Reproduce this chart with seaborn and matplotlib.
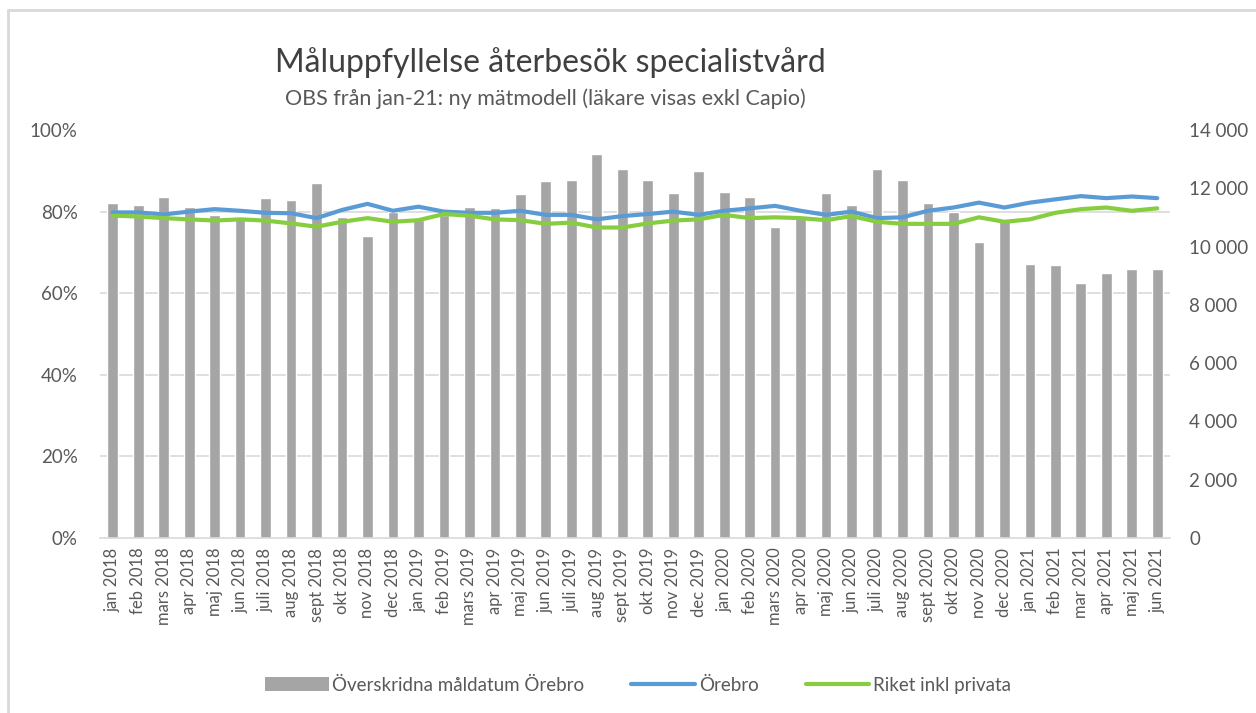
import matplotlib
matplotlib.use("Agg")
import matplotlib.pyplot as plt
from matplotlib.lines import Line2D
from matplotlib.patches import Patch
from matplotlib.ticker import FuncFormatter, MultipleLocator
import seaborn as sns
import numpy as np
import pandas as pd

MONTHS = [
    "jan 2018", "feb 2018", "mars 2018", "apr 2018", "maj 2018", "jun 2018",
    "juli 2018", "aug 2018", "sept 2018", "okt 2018", "nov 2018", "dec 2018",
    "jan 2019", "feb 2019", "mars 2019", "apr 2019", "maj 2019", "jun 2019",
    "juli 2019", "aug 2019", "sept 2019", "okt 2019", "nov 2019", "dec 2019",
    "jan 2020", "feb 2020", "mars 2020", "apr 2020", "maj 2020", "jun 2020",
    "juli 2020", "aug 2020", "sept 2020", "okt 2020", "nov 2020", "dec 2020",
    "jan 2021", "feb 2021", "mar 2021", "apr 2021", "maj 2021", "jun 2021",
]

# Överskridna måldatum Örebro (right axis, count)
OVERSKRIDNA = [
    11500, 11420, 11710, 11350, 11100, 11000, 11670, 11590, 12170, 11000, 10370, 11200,
    10900, 11100, 11350, 11310, 11800, 12240, 12280, 13180, 12660, 12270, 11830, 12590,
    11880, 11710, 10680, 11000, 11830, 11430, 12650, 12270, 11500, 11200, 10170, 10900,
    9400, 9360, 8760, 9080, 9230, 9230,
]

# Måluppfyllelse (left axis, %)
OREBRO = [
    79.8, 79.8, 79.3, 80.0, 80.6, 80.2, 79.7, 79.6, 78.4, 80.4, 81.9, 80.2,
    81.2, 80.0, 79.7, 79.7, 80.2, 79.2, 79.2, 78.1, 78.9, 79.4, 80.0, 79.2,
    80.2, 80.8, 81.4, 80.2, 79.2, 80.0, 78.4, 78.6, 80.2, 81.0, 82.2, 81.0,
    82.2, 83.0, 83.8, 83.3, 83.7, 83.3,
]
RIKET = [
    79.0, 78.8, 78.4, 78.1, 77.8, 78.1, 77.8, 77.1, 76.3, 77.5, 78.4, 77.5,
    77.9, 79.4, 79.0, 78.1, 77.9, 77.0, 77.3, 76.1, 76.1, 77.1, 77.8, 78.1,
    79.2, 78.4, 78.6, 78.4, 77.9, 78.9, 77.5, 77.0, 77.0, 77.0, 78.6, 77.5,
    78.1, 79.7, 80.6, 81.0, 80.2, 80.8,
]

BAR_COLOR = "#A5A5A5"
BLUE = "#5B9BD5"
GREEN = "#86CE40"
TEXT = "#595959"
GRID = "#D9D9D9"

sns.set_style("white")
plt.rcParams["font.family"] = ["Lato", "DejaVu Sans"]

df = pd.DataFrame({
    "month": MONTHS,
    "idx": np.arange(len(MONTHS)),
    "overskridna": OVERSKRIDNA,
    "orebro": np.array(OREBRO) / 100,
    "riket": np.array(RIKET) / 100,
})

W, H = 1256, 713
fig = plt.figure(figsize=(W / 100, H / 100), dpi=100)
ax = fig.add_axes([100 / W, 175 / H, 1070 / W, 408 / H])
ax2 = ax.twinx()

# bars on the count axis (drawn at the back)
sns.barplot(data=df, x="month", y="overskridna", color=BAR_COLOR, saturation=1,
            width=0.42, ax=ax)
ax.set_xlim(-0.5, len(MONTHS) - 0.5)
ax.set_ylim(0, 14000)
ax.yaxis.tick_right()
ax.yaxis.set_label_position("right")
ax.yaxis.set_major_locator(MultipleLocator(2000))
ax.yaxis.set_major_formatter(FuncFormatter(lambda v, p: f"{int(v):,}".replace(",", " ")))
# gridlines follow the percent axis (every 20 %)
ax.yaxis.set_minor_locator(MultipleLocator(2800))
ax.grid(which="minor", axis="y", color=GRID, lw=1.2)
ax.set_axisbelow(True)
ax.set_xlabel("")
ax.set_ylabel("")
ax.tick_params(axis="y", which="both", length=0, pad=14, labelsize=13.5, labelcolor=TEXT)
ax.tick_params(axis="x", length=0, pad=7, labelsize=12, labelcolor=TEXT, rotation=90)
for s in ["top", "left", "right"]:
    ax.spines[s].set_visible(False)
ax.spines["bottom"].set_color(GRID)
ax.spines["bottom"].set_linewidth(1.2)

# lines on the percent axis
sns.lineplot(data=df, x="idx", y="orebro", color=BLUE, lw=3, ax=ax2)
sns.lineplot(data=df, x="idx", y="riket", color=GREEN, lw=3, ax=ax2)
ax2.set_xlim(-0.5, len(MONTHS) - 0.5)
ax2.set_ylim(0, 1)
ax2.yaxis.tick_left()
ax2.yaxis.set_label_position("left")
ax2.yaxis.set_major_locator(MultipleLocator(0.2))
ax2.yaxis.set_major_formatter(FuncFormatter(lambda v, p: f"{v * 100:.0f}%"))
ax2.tick_params(axis="y", length=0, pad=16, labelsize=13.5, labelcolor=TEXT)
ax2.set_xlabel("")
ax2.set_ylabel("")
for s in ax2.spines.values():
    s.set_visible(False)

fig.text(550 / W, 1 - 72 / H, "Måluppfyllelse återbesök specialistvård",
         ha="center", va="baseline", fontsize=23, color="#404040")
fig.text(545 / W, 1 - 105 / H, "OBS från jan-21: ny mätmodell (läkare visas exkl Capio)",
         ha="center", va="baseline", fontsize=15.5, color=TEXT)

handles = [
    Patch(facecolor=BAR_COLOR, edgecolor="none"),
    Line2D([], [], color=BLUE, lw=3),
    Line2D([], [], color=GREEN, lw=3),
]
labels = ["Överskridna måldatum Örebro", "Örebro", "Riket inkl privata"]
leg = fig.legend(handles, labels, loc="center", bbox_to_anchor=(638 / W, 1 - 685 / H),
                 ncol=3, frameon=False, fontsize=13.5, handlelength=3.4,
                 handletextpad=0.2, columnspacing=2.5)
for t in leg.get_texts():
    t.set_color(TEXT)

# chart frame (top and left edges visible in the reference)
fig.add_artist(Line2D([8 / W, 1], [1 - 10 / H, 1 - 10 / H], color=GRID, lw=2,
                      transform=fig.transFigure))
fig.add_artist(Line2D([8 / W, 8 / W], [0, 1 - 10 / H], color=GRID, lw=2,
                      transform=fig.transFigure))

fig.savefig("out.png", dpi=100)
